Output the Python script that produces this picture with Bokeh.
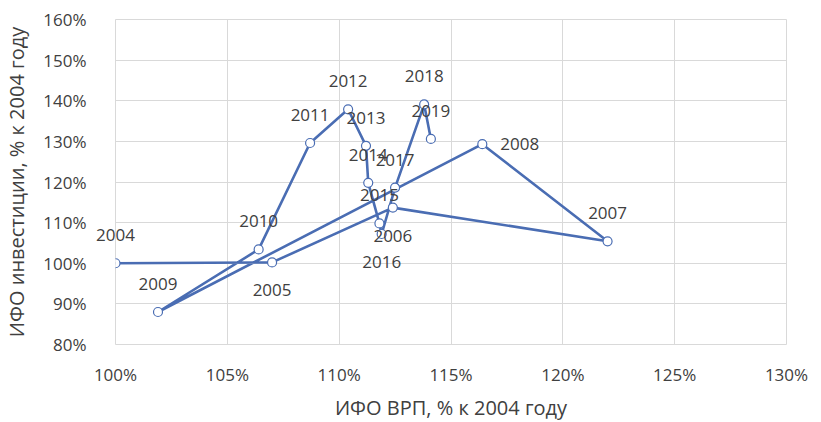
from bokeh.plotting import figure
from bokeh.models import ColumnDataSource, PrintfTickFormatter, FixedTicker, Range1d, Label
from bokeh.embed import file_html
from bokeh.resources import INLINE

years = [2004, 2005, 2006, 2007, 2008, 2009, 2010, 2011, 2012, 2013, 2014, 2015, 2016, 2017, 2018, 2019]
grp_pct = [100.0, 107.0, 112.4, 122.0, 116.4, 101.9, 106.4, 108.7, 110.4, 111.2, 111.3, 111.8, 111.9, 112.5, 113.8, 114.1]
inv_pct = [100.0, 100.2, 113.7, 105.4, 129.3, 88.0, 103.4, 129.6, 137.9, 128.9, 119.8, 109.8, 107.2, 118.6, 139.1, 130.6]
label_side = ["above", "below", "below", "above", "right", "above", "above", "above",
              "above", "above", "above", "above", "below", "above", "above", "above"]

x_ticks = [100, 105, 110, 115, 120, 125, 130]
y_ticks = [80, 90, 100, 110, 120, 130, 140, 150, 160]

FONT = "Open Sans"
FS = "17px"
FS_TITLE = "20px"
TXT = "#404040"
BLUE = "#4a6db3"

xr = Range1d(100, 130)
p = figure(frame_width=671, frame_height=325, output_backend="svg", toolbar_location=None,
           x_range=xr, y_range=Range1d(80, 160),
           min_border_left=115, min_border_right=27, min_border_top=19, min_border_bottom=60)
p.outline_line_color = "#d9d9d9"
p.background_fill_color = "white"

for ax in (p.xaxis[0], p.yaxis[0]):
    ax.axis_line_color = None
    ax.major_tick_line_color = None
    ax.minor_tick_line_color = None
    ax.major_label_text_font = FONT
    ax.major_label_text_font_size = FS
    ax.major_label_text_color = TXT
    ax.axis_label_text_font = FONT
    ax.axis_label_text_font_size = FS_TITLE
    ax.axis_label_text_font_style = "normal"
    ax.axis_label_text_color = TXT
    ax.formatter = PrintfTickFormatter(format="%d%%")

p.xaxis.ticker = FixedTicker(ticks=x_ticks)
p.yaxis.ticker = FixedTicker(ticks=y_ticks)
p.xaxis.axis_label = "ИФО ВРП, % к 2004 году"
p.yaxis.axis_label = "ИФО инвестиции, % к 2004 году"
p.xaxis.major_label_standoff = 12
p.xaxis.axis_label_standoff = 5
p.yaxis.axis_label_standoff = 10

p.xgrid.grid_line_color = "#d9d9d9"
p.ygrid.grid_line_color = "#d9d9d9"

src = ColumnDataSource(dict(x=grp_pct, y=inv_pct))
p.line("x", "y", source=src, line_color=BLUE, line_width=2.6)
p.scatter("x", "y", source=src, size=9, fill_color="white", line_color=BLUE, line_width=1.2)

offsets = {"above": (0, 28, "center"), "below": (0, -28, "center"), "right": (18, 0, "left")}
edge_labels = []
for yr_, gx, iy, side in zip(years, grp_pct, inv_pct, label_side):
    dx, dy, align = offsets[side]
    lab = Label(x=gx, y=iy, text=str(yr_), x_offset=dx, y_offset=dy, text_align=align,
                text_baseline="middle", text_font=FONT, text_font_size=FS, text_color=TXT)
    if gx <= xr.start + 0.5:
        edge_labels.append(lab)   # on the frame's left edge: side panel, so it is not clipped
    else:
        p.add_layout(lab, "center")

# edge labels sit in a slot next to the frame; the y axis is pulled back over that slot
p.left = edge_labels + list(p.left)
p.yaxis.major_label_standoff = 22 - 38 if edge_labels else 22

open("out.html", "w").write(file_html(p, INLINE))
